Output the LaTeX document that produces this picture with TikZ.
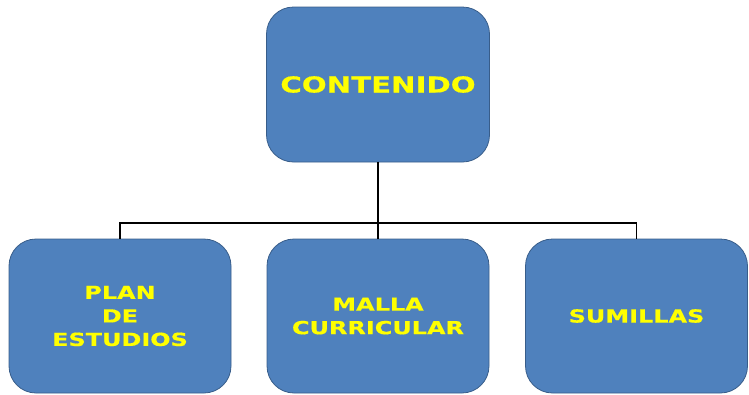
\documentclass[tikz,border=0pt]{standalone}
\usepackage{fontspec}
\newfontfamily\boxfont[FakeStretch=1.33,FakeBold=0.6]{DejaVu Sans}
\usetikzlibrary{positioning}
\definecolor{boxblue}{RGB}{79,129,189}
\definecolor{boxline}{RGB}{56,93,138}
\definecolor{boxtext}{RGB}{255,255,0}

\begin{document}
\begin{tikzpicture}[x=1pt,y=-1pt,
  box/.style={rectangle, rounded corners=27pt, draw=boxline, line width=.8pt, fill=boxblue, text=boxtext, align=center, minimum width=222pt, minimum height=154pt, inner sep=0},
  link/.style={draw=black, line width=1.8pt}]

\useasboundingbox (0,0) rectangle (749,394);

\node (cont) at (378,84.5) [box, minimum width=223pt, minimum height=155pt, font={\boxfont\bfseries\fontsize{22}{26}\selectfont}] {CONTENIDO};

\node (plan) at (120,316) [box, font={\boxfont\bfseries\fontsize{18}{23.5}\selectfont}] {PLAN\\DE\\ESTUDIOS};
\node (malla) at (378,316) [box, font={\boxfont\bfseries\fontsize{18}{23.5}\selectfont}] {MALLA\\CURRICULAR};
\node (sum) at (636.5,316) [box, font={\boxfont\bfseries\fontsize{18}{23.5}\selectfont}] {SUMILLAS};

%----------------------------------------------------
\coordinate (bar) at (378,223);
\path[link] (cont) -- (bar);
\path[link] (plan) |- (bar) -| (sum);
\path[link] (bar) -- (malla);

\end{tikzpicture}
\end{document}
